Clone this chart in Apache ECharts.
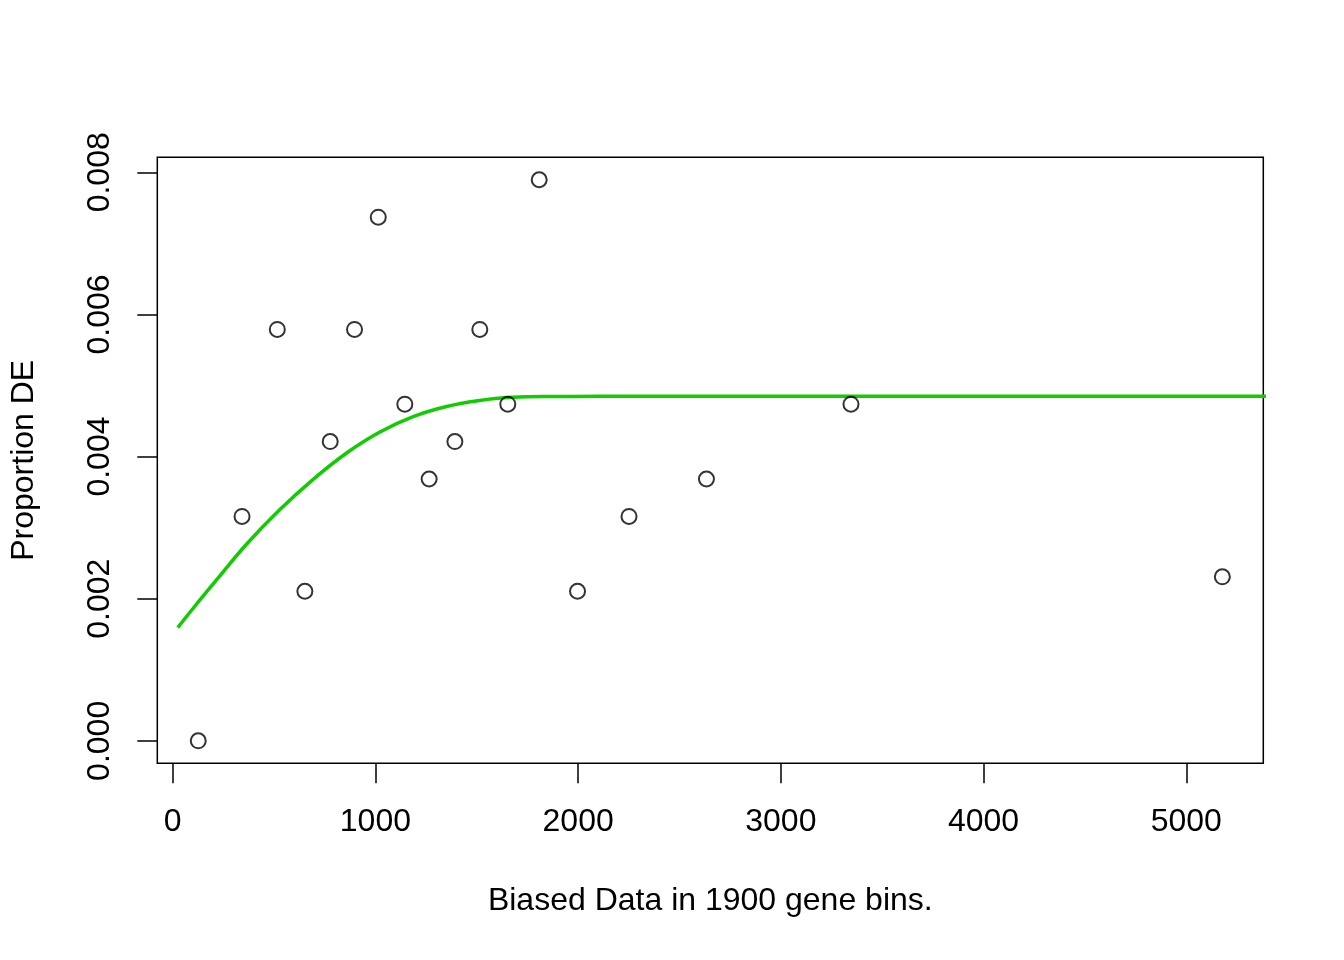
<!DOCTYPE html>
<html>
<head>
<meta charset="utf-8">
<script src="https://cdn.jsdelivr.net/npm/echarts@6/dist/echarts.min.js"></script>
<style>
html,body{margin:0;padding:0;background:#fff;}
#chart{width:1344px;height:960px;}
</style>
</head>
<body>
<div id="chart"></div>
<script>
// Observed points: bin median length vs proportion DE
const binX = [126, 342, 516, 652, 777, 897, 1014, 1145, 1265, 1392, 1515, 1653, 1808, 1997, 2251, 2633, 3346, 5178];
const binY = [0.000000, 0.003158, 0.005789, 0.002105, 0.004211, 0.005789, 0.007368, 0.004737, 0.003684, 0.004211, 0.005789, 0.004737, 0.007895, 0.002105, 0.003158, 0.003684, 0.004737, 0.002308];

// Fitted curve (green)
const fitX = [25, 102, 217, 365, 529, 693, 858, 1022, 1186, 1351, 1515, 1679, 1850, 2107, 3000, 4000, 5400];
const fitY = [0.001593, 0.001869, 0.002267, 0.002770, 0.003255, 0.003680, 0.004050, 0.004345, 0.004562, 0.004705, 0.004790, 0.004833, 0.004845, 0.004847, 0.004847, 0.004847, 0.004847];

// Tick values
const xTicks = [0, 1000, 2000, 3000, 4000, 5000];
const yTicks = [0, 0.002, 0.004, 0.006, 0.008];

const xTitle = 'Biased Data in 1900 gene bins.';
const yTitle = 'Proportion DE';

const FONT = '"Liberation Sans", Arial, Helvetica, sans-serif';

const chart = echarts.init(document.getElementById('chart'), null, {renderer: 'canvas'});
chart.setOption({
  animation: false,
  backgroundColor: '#ffffff',
  grid: {
    left: 157.3, top: 157.3, width: 1106, height: 606,
    show: true, borderColor: '#000', borderWidth: 1.5, backgroundColor: 'transparent'
  },
  xAxis: {
    type: 'value',
    min: -76, max: 5380,
    splitLine: {show: false},
    axisLine: {show: false, onZero: false},
    axisTick: {show: true, inside: false, length: 20, customValues: xTicks,
      lineStyle: {color: '#000', width: 1.5}},
    axisLabel: {show: true, customValues: xTicks, margin: 59,
      color: '#000', fontFamily: FONT, fontSize: 32,
      verticalAlign: 'middle', align: 'center',
      formatter: v => String(v)},
    name: xTitle,
    nameLocation: 'middle',
    nameGap: 138,
    nameTextStyle: {color: '#000', fontFamily: FONT, fontSize: 32, verticalAlign: 'middle', align: 'center'}
  },
  yAxis: {
    type: 'value',
    min: -0.000316, max: 0.008211,
    splitLine: {show: false},
    axisLine: {show: false, onZero: false},
    axisTick: {show: true, inside: false, length: 20, customValues: yTicks,
      lineStyle: {color: '#000', width: 1.5}},
    axisLabel: {show: true, customValues: yTicks, margin: 57,
      rotate: 90, color: '#000', fontFamily: FONT, fontSize: 32,
      verticalAlign: 'middle', align: 'center',
      formatter: v => v.toFixed(3)},
    name: yTitle,
    nameLocation: 'middle',
    nameGap: 133,
    nameRotate: 90,
    nameTextStyle: {color: '#000', fontFamily: FONT, fontSize: 32, verticalAlign: 'middle', align: 'center'}
  },
  series: [
    {
      type: 'scatter',
      data: binX.map((x, i) => [x, binY[i]]),
      symbol: 'circle',
      symbolSize: 15,
      itemStyle: {color: 'rgba(0,0,0,0)', borderColor: '#000', borderWidth: 2},
      z: 3
    },
    {
      type: 'line',
      data: fitX.map((x, i) => [x, fitY[i]]),
      showSymbol: false,
      smooth: 0.4,
      clip: true,
      lineStyle: {color: '#11CC00', width: 3.5},
      z: 2
    }
  ]
});
</script>
</body>
</html>
